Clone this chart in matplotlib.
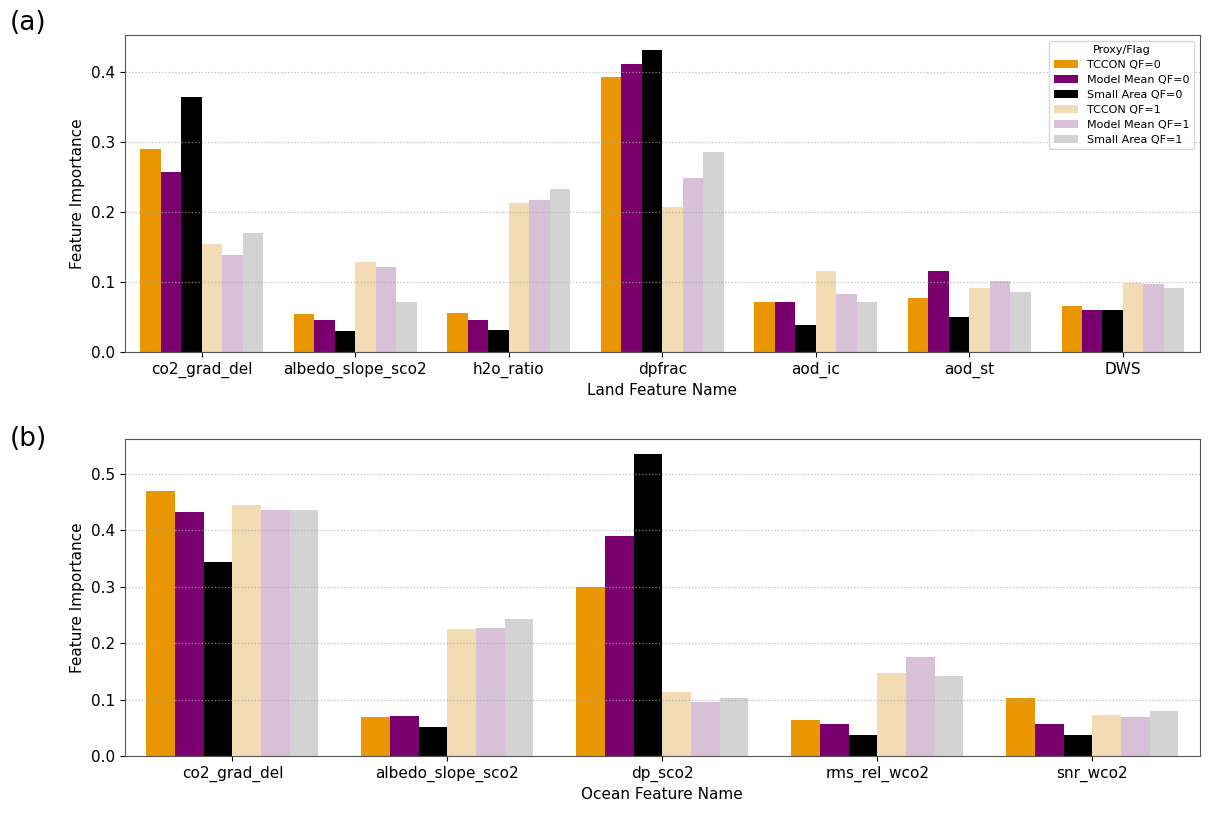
import matplotlib
matplotlib.use("Agg")
import matplotlib.pyplot as plt
import numpy as np

# series labels and colours
series = ["TCCON QF=0", "Model Mean QF=0", "Small Area QF=0",
          "TCCON QF=1", "Model Mean QF=1", "Small Area QF=1"]
colors = ["#EA9600", "#7B006F", "#000000", "#F3DBB4", "#D8C0D8", "#D3D3D3"]

# land features (panel a)
land_features = ["co2_grad_del", "albedo_slope_sco2", "h2o_ratio", "dpfrac",
                 "aod_ic", "aod_st", "DWS"]
land_tccon_qf0 = [0.290, 0.054, 0.056, 0.393, 0.071, 0.077, 0.065]
land_model_qf0 = [0.257, 0.045, 0.045, 0.411, 0.072, 0.115, 0.060]
land_small_qf0 = [0.364, 0.030, 0.032, 0.431, 0.039, 0.050, 0.060]
land_tccon_qf1 = [0.154, 0.128, 0.213, 0.207, 0.115, 0.091, 0.098]
land_model_qf1 = [0.138, 0.122, 0.217, 0.248, 0.083, 0.101, 0.097]
land_small_qf1 = [0.170, 0.071, 0.233, 0.286, 0.071, 0.086, 0.091]

# ocean features (panel b)
ocean_features = ["co2_grad_del", "albedo_slope_sco2", "dp_sco2",
                  "rms_rel_wco2", "snr_wco2"]
ocean_tccon_qf0 = [0.469, 0.069, 0.300, 0.064, 0.102]
ocean_model_qf0 = [0.433, 0.070, 0.389, 0.056, 0.057]
ocean_small_qf0 = [0.343, 0.052, 0.535, 0.037, 0.038]
ocean_tccon_qf1 = [0.445, 0.225, 0.113, 0.147, 0.072]
ocean_model_qf1 = [0.436, 0.227, 0.095, 0.176, 0.069]
ocean_small_qf1 = [0.436, 0.243, 0.102, 0.142, 0.080]


def grouped_bars(ax, features, values, xlabel, legend=False):
    n = len(values)
    width = 0.8 / n
    x = np.arange(len(features))
    for i, (vals, lab, col) in enumerate(zip(values, series, colors)):
        ax.bar(x - 0.4 + width * (i + 0.5), vals, width, color=col, label=lab)
    ax.set_xticks(x)
    ax.set_xticklabels(features, fontsize=11)
    ax.tick_params(axis='y', labelsize=11)
    ax.set_xlim(-0.5, len(features) - 0.5)
    ax.set_ylim(0, max(max(v) for v in values) * 1.05)
    ax.set_xlabel(xlabel, fontsize=11)
    ax.set_ylabel("Feature Importance", fontsize=11)
    ax.grid(axis='y', linestyle=':', linewidth=0.9, color='#aaaaaa', alpha=0.8)
    for s in ax.spines.values():
        s.set_color('#555555')
    if legend:
        ax.legend(title="Proxy/Flag", fontsize=8, title_fontsize=8,
                  loc='upper right', handlelength=2.2, labelspacing=0.45)
    return ax


fig = plt.figure(figsize=(12.18, 8.14), dpi=100)
ax1 = fig.add_axes([0.1026, 0.5676, 0.8824, 0.3894])
ax2 = fig.add_axes([0.1026, 0.0713, 0.8824, 0.3894])

grouped_bars(ax1, land_features,
             [land_tccon_qf0, land_model_qf0, land_small_qf0,
              land_tccon_qf1, land_model_qf1, land_small_qf1],
             "Land Feature Name", legend=True)
grouped_bars(ax2, ocean_features,
             [ocean_tccon_qf0, ocean_model_qf0, ocean_small_qf0,
              ocean_tccon_qf1, ocean_model_qf1, ocean_small_qf1],
             "Ocean Feature Name")

fig.text(0.008, 0.972, "(a)", fontsize=19, va='center')
fig.text(0.008, 0.461, "(b)", fontsize=19, va='center')

fig.savefig("out.png", dpi=100)
